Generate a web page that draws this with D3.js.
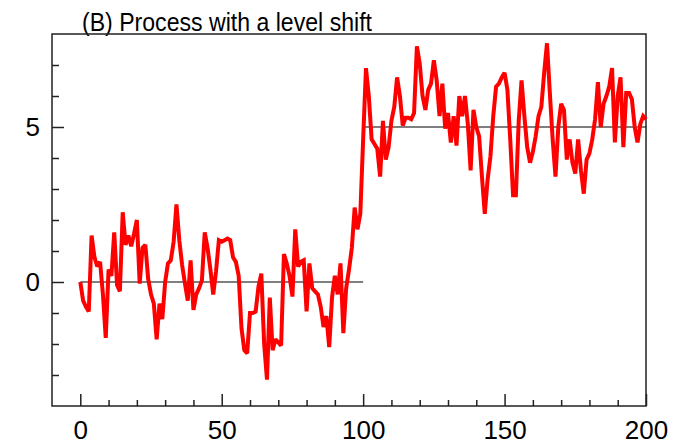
<!DOCTYPE html>
<html>
<head>
<meta charset="utf-8">
<script src="https://cdn.jsdelivr.net/npm/d3@7"></script>
<style>
  html, body { margin: 0; padding: 0; background: #fff; }
  svg { display: block; }
  text { font-family: "Liberation Sans", Arial, Helvetica, sans-serif; fill: #000; }
</style>
</head>
<body>
<svg id="chart" width="684" height="445"></svg>
<script>
// ---- data ----
const title = "(B) Process with a level shift";
const xMajorTicks = [0, 50, 100, 150, 200];
const xMinorTicks = [10, 20, 30, 40, 60, 70, 80, 90, 110, 120, 130, 140, 160, 170, 180, 190];
const yMajorTicks = [0, 5];
const yMinorTicks = [-3, -2, -1, 1, 2, 3, 4, 6, 7];
const refLevels = [
  { from: 0, to: 100, level: 0 },
  { from: 100, to: 200, level: 5 }
];
const series = [
  0.0, -0.6, -0.8, -0.95, 1.5, 0.8, 0.5, 0.65, -0.4, -1.8,
  0.4, 0.2, 1.6, -0.1, -0.3, 2.25, 1.2, 1.5, 1.15, 1.55,
  2.0, -0.05, 1.1, 1.2, 0.1, -0.4, -0.7, -1.85, -0.7, -1.2,
  0.0, 0.6, 0.7, 1.3, 2.5, 1.35, 0.55, -0.05, -0.6, 0.7,
  -0.9, -0.4, -0.2, 0.05, 1.6, 1.1, 0.4, -0.4, 0.35, 1.35,
  1.3, 1.35, 1.4, 1.35, 0.8, 0.65, 0.2, -1.5, -2.2, -2.3,
  -1.0, -1.0, -0.95, -0.15, 0.27, -2.0, -3.15, -0.5, -2.2, -1.85,
  -1.95, -2.05, 0.9, 0.6, 0.18, -0.47, 1.7, 0.5, 0.65, 0.7,
  -0.95, 0.6, -0.2, -0.3, -0.4, -0.8, -1.45, -1.1, -2.1, -0.5,
  0.2, -0.4, 0.6, -1.65, -0.2, 0.4, 1.1, 2.4, 1.7, 2.2,
  4.6, 6.9, 6.0, 4.6, 4.45, 4.3, 3.4, 5.2, 3.95, 4.35,
  5.2, 5.65, 6.6, 6.0, 5.05, 5.3, 5.3, 5.25, 5.45, 7.6,
  7.05, 6.0, 5.55, 6.2, 6.4, 7.15, 6.5, 5.35, 6.4, 4.95,
  5.45, 4.5, 5.35, 4.4, 6.0, 5.35, 6.0, 5.1, 3.6, 5.55,
  5.0, 4.7, 3.4, 2.2, 3.3, 4.05, 5.35, 6.3, 6.4, 6.6,
  6.75, 6.2, 4.6, 2.8, 2.8, 5.2, 6.5, 5.35, 4.35, 3.85,
  4.2, 4.7, 5.35, 5.65, 6.75, 7.7, 6.1, 4.6, 3.4, 5.0,
  5.75, 5.55, 3.95, 4.6, 3.85, 3.5, 4.6, 3.6, 2.85, 3.95,
  4.15, 4.6, 5.25, 6.45, 5.0, 5.75, 6.0, 6.3, 6.9, 4.5,
  6.0, 6.6, 4.35, 6.1, 6.1, 5.9, 5.0, 4.5, 5.1, 5.35,
  5.25
];

// ---- layout ----
const svg = d3.select("#chart");
const L = 52, R = 646, T = 34, B = 406;

const x = d3.scaleLinear().domain([-10, 200]).range([L, R]);
const y = d3.scaleLinear().domain([-4, 8]).range([B, T]);

// title
svg.append("text")
  .attr("x", 82).attr("y", 30.5)
  .attr("font-size", 26)
  .attr("textLength", 290)
  .attr("lengthAdjust", "spacingAndGlyphs")
  .text(title);

// frame
svg.append("rect")
  .attr("x", L).attr("y", T)
  .attr("width", R - L).attr("height", B - T)
  .attr("fill", "none").attr("stroke", "#222").attr("stroke-width", 1.5);

// reference lines
svg.append("g").selectAll("line").data(refLevels).join("line")
  .attr("x1", d => x(d.from)).attr("x2", d => x(d.to))
  .attr("y1", d => y(d.level)).attr("y2", d => y(d.level))
  .attr("stroke", "#000").attr("stroke-width", 1.2);

// series line
const line = d3.line().x((d, i) => x(i)).y(d => y(d));
svg.append("path")
  .datum(series)
  .attr("d", line)
  .attr("fill", "none")
  .attr("stroke", "#ff0000")
  .attr("stroke-width", 4)
  .attr("stroke-linejoin", "miter")
  .attr("stroke-miterlimit", 2);

// axes
function styleAxis(g) {
  g.select(".domain").remove();
  g.selectAll(".tick line").attr("stroke", "#222").attr("stroke-width", 1.5);
  g.selectAll(".tick text").attr("font-size", 26).attr("font-family", "Liberation Sans, Arial, sans-serif").attr("fill", "#000");
}

svg.append("g").attr("transform", `translate(0,${B})`)
  .call(d3.axisBottom(x).tickValues(xMajorTicks).tickSize(-12).tickPadding(15).tickFormat(d3.format("d")))
  .call(styleAxis);
svg.append("g").attr("transform", `translate(0,${B})`)
  .call(d3.axisBottom(x).tickValues(xMinorTicks).tickSize(-6).tickFormat(""))
  .call(styleAxis);

svg.append("g").attr("transform", `translate(${L},0)`)
  .call(d3.axisLeft(y).tickValues(yMajorTicks).tickSize(-12).tickPadding(12).tickFormat(d3.format("d")))
  .call(styleAxis);
svg.append("g").attr("transform", `translate(${L},0)`)
  .call(d3.axisLeft(y).tickValues(yMinorTicks).tickSize(-7).tickFormat(""))
  .call(styleAxis);
</script>
</body>
</html>
